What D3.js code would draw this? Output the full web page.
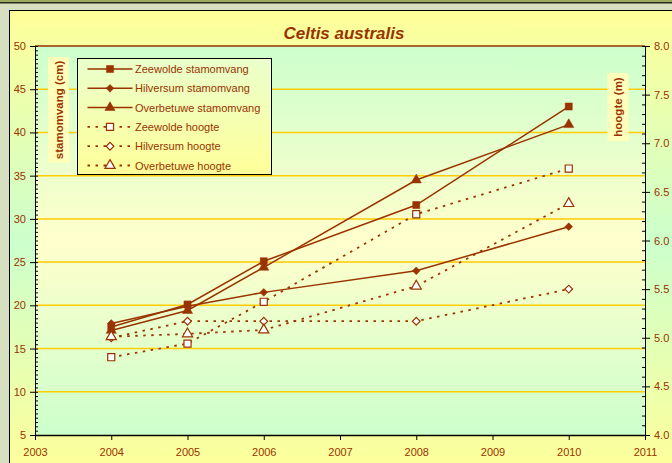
<!DOCTYPE html>
<html>
<head>
<meta charset="utf-8">
<script src="https://cdn.jsdelivr.net/npm/d3@7"></script>
<style>
  body { margin: 0; background: #d6dfbf; }
  svg { display: block; font-family: "Liberation Sans", Arial, sans-serif; }
  .axis text { fill: #993300; font-size: 11px; }
  .axis path, .axis line { stroke: #000; }
  .minor text { display: none; }
</style>
</head>
<body>
<div id="chart"></div>
<script>
// measured values
var years = [2004, 2005, 2006, 2008, 2010];
var zeewoldeStam = [17.5, 20.1, 25.1, 31.6, 43.0];
var hilversumStam = [17.9, 19.9, 21.5, 24.0, 29.1];
var overbetuweStam = [17.1, 19.4, 24.4, 34.5, 40.9];
var zeewoldeHoogte = [4.80, 4.94, 5.37, 6.27, 6.74];
var hilversumHoogte = [5.00, 5.17, 5.17, 5.17, 5.50];
var overbetuweHoogte = [5.01, 5.04, 5.08, 5.53, 6.38];
var seriesNames = ['Zeewolde stamomvang', 'Hilversum stamomvang', 'Overbetuwe stamomvang',
                   'Zeewolde hoogte', 'Hilversum hoogte', 'Overbetuwe hoogte'];
var xTicks = [2003, 2004, 2005, 2006, 2007, 2008, 2009, 2010, 2011];
var leftTicks = [5, 10, 15, 20, 25, 30, 35, 40, 45, 50];
var rightTicks = [4.0, 4.5, 5.0, 5.5, 6.0, 6.5, 7.0, 7.5, 8.0];

var brown = '#993300';

var margin = {top: 46, right: 27, bottom: 28, left: 35};
var width = 672 - margin.left - margin.right,
    height = 463 - margin.top - margin.bottom;

var svg = d3.select('#chart').append('svg')
    .attr('width', 672)
    .attr('height', 463);

// gradients
var defs = svg.append('defs');
function vGrad(id, stops, y1, y2) {
  var g = defs.append('linearGradient').attr('id', id)
    .attr('x1', 0).attr('x2', 0).attr('y1', y1).attr('y2', y2);
  if (y1 !== '0') g.attr('gradientUnits', 'userSpaceOnUse');
  stops.forEach(function(s) {
    g.append('stop').attr('offset', s[0]).attr('stop-color', s[1]);
  });
}
vGrad('chartGrad', [[0, '#ffff99'], [0.5, '#ccffcc'], [1, '#ffff99']], 10, 475);
vGrad('plotGrad', [[0, '#ccffcc'], [0.5, '#ffffcc'], [1, '#ccffcc']], '0', '1');
vGrad('legendGrad', [[0, '#eaffcc'], [1, '#ffff99']], '0', '1');

// outer frame
svg.append('rect').attr('width', 672).attr('height', 2).attr('fill', '#9aab60');
svg.append('rect').attr('y', 2).attr('width', 672).attr('height', 1.5).attr('fill', '#2b2b1b');
svg.append('rect')
  .attr('x', 9.5).attr('y', 10.5)
  .attr('width', 700).attr('height', 500)
  .attr('fill', 'url(#chartGrad)')
  .attr('stroke', '#000');

svg.append('text')
  .attr('x', 344).attr('y', 39)
  .attr('text-anchor', 'middle')
  .style('font-size', '17px').style('font-weight', 'bold').style('font-style', 'italic')
  .style('fill', brown)
  .text('Celtis australis');

var g = svg.append('g')
    .attr('transform', 'translate(' + margin.left + ',' + margin.top + ')');

var x = d3.scaleLinear().domain([2003, 2011]).range([0, width]),
    yL = d3.scaleLinear().domain([5, 50]).range([height, 0]),
    yR = d3.scaleLinear().domain([4, 8]).range([height, 0]);

g.append('rect')
  .attr('width', width).attr('height', height)
  .attr('fill', 'url(#plotGrad)');

// gridlines
g.selectAll('.grid')
  .data(leftTicks.filter(function(d) { return d > 5 && d < 50; }))
    .enter().append('line')
  .attr('x1', 0).attr('x2', width)
  .attr('y1', function(d) { return yL(d); })
  .attr('y2', function(d) { return yL(d); })
  .attr('stroke', '#ffcc00').attr('stroke-width', 1.5);

g.append('line')
  .attr('x1', 0).attr('x2', width).attr('y1', 0).attr('y2', 0)
  .attr('stroke', brown).attr('stroke-width', 1.5);

// axes
g.append('g').attr('class', 'axis minor')
  .call(d3.axisRight(yL).tickValues(d3.range(5, 50.01, 0.5)).tickSize(3).tickSizeOuter(0));
g.append('g').attr('class', 'axis')
  .call(d3.axisLeft(yL).tickValues(leftTicks).tickSize(5).tickSizeOuter(0).tickPadding(4));

g.append('g').attr('class', 'axis minor')
  .attr('transform', 'translate(' + width + ',0)')
  .call(d3.axisLeft(yR).tickValues(d3.range(4, 8.001, 0.1)).tickSize(3).tickSizeOuter(0));
g.append('g').attr('class', 'axis')
  .attr('transform', 'translate(' + width + ',0)')
  .call(d3.axisRight(yR).tickValues(rightTicks).tickSize(5).tickSizeOuter(0).tickPadding(4)
    .tickFormat(d3.format('.1f')));

var xAxis = g.append('g').attr('class', 'axis')
  .attr('transform', 'translate(0,' + height + ')')
  .call(d3.axisBottom(x).tickValues(xTicks).tickSize(5).tickSizeOuter(0).tickPadding(8)
    .tickFormat(d3.format('d')));
xAxis.select('.domain').attr('stroke', '#4a2208').attr('stroke-width', 1.5);

// axis titles
function axisTitle(cx, cy, w, h, label) {
  svg.append('rect')
    .attr('x', cx - w / 2).attr('y', cy - h / 2)
    .attr('width', w).attr('height', h)
    .attr('fill', '#ffffbb');
  svg.append('text')
    .attr('transform', 'translate(' + (cx + 4) + ',' + cy + ') rotate(-90)')
    .attr('text-anchor', 'middle')
    .style('font-size', '11.5px').style('font-weight', 'bold')
    .style('fill', brown)
    .text(label);
}
axisTitle(58.5, 110, 21, 106, 'stamomvang (cm)');
axisTitle(618, 107, 21, 68, 'hoogte (m)');

// series
var series = [
  {name: seriesNames[0], values: zeewoldeStam, scale: yL, shape: 'square', open: false},
  {name: seriesNames[1], values: hilversumStam, scale: yL, shape: 'diamond', open: false},
  {name: seriesNames[2], values: overbetuweStam, scale: yL, shape: 'triangle', open: false},
  {name: seriesNames[3], values: zeewoldeHoogte, scale: yR, shape: 'square', open: true},
  {name: seriesNames[4], values: hilversumHoogte, scale: yR, shape: 'diamond', open: true},
  {name: seriesNames[5], values: overbetuweHoogte, scale: yR, shape: 'triangle', open: true}
];

function symbolPath(shape) {
  if (shape === 'square') return d3.symbol(d3.symbolSquare, 50)();
  if (shape === 'diamond') return d3.symbol(d3.symbolSquare, 30)();
  return d3.symbol(d3.symbolTriangle, 45)();
}
function drawMarker(sel, s) {
  sel.attr('d', symbolPath(s.shape))
    .attr('fill', s.open ? '#ffffff' : brown)
    .attr('stroke', brown)
    .attr('stroke-width', s.open ? 1.2 : 0.5);
}

var line = d3.line()
  .x(function(d) { return x(d.year); })
  .y(function(d) { return d.y; });

var lines = g.selectAll('.serie')
  .data(series)
    .enter().append('g')
  .attr('class', 'serie');

lines.append('path')
  .attr('d', function(s) {
    return line(years.map(function(yr, i) { return {year: yr, y: s.scale(s.values[i])}; }));
  })
  .attr('fill', 'none')
  .attr('stroke', brown)
  .attr('stroke-width', function(s) { return s.open ? 1.8 : 1.5; })
  .attr('stroke-dasharray', function(s) { return s.open ? '2.5,5.5' : null; });

lines.each(function(s) {
  d3.select(this).selectAll('.marker')
    .data(s.values)
      .enter().append('path')
    .attr('transform', function(d, i) {
      var rot = s.shape === 'diamond' ? ' rotate(45)' : '';
      return 'translate(' + x(years[i]) + ',' + s.scale(d) + ')' + rot;
    })
    .call(drawMarker, s);
});

// legend
var legend = svg.append('g').attr('transform', 'translate(77.5,58.5)');
legend.append('rect')
  .attr('width', 194).attr('height', 116)
  .attr('fill', 'url(#legendGrad)')
  .attr('stroke', '#000');

var rows = legend.selectAll('.row')
  .data(series)
    .enter().append('g')
  .attr('transform', function(d, i) { return 'translate(0,' + (10.5 + i * 19.3) + ')'; });

rows.append('line')
  .attr('x1', 10).attr('x2', 55)
  .attr('stroke', brown)
  .attr('stroke-width', function(s) { return s.open ? 1.8 : 1.5; })
  .attr('stroke-dasharray', function(s) { return s.open ? '2.5,5.5' : null; });

rows.append('path')
  .each(function(s) {
    d3.select(this)
      .attr('transform', 'translate(32.5,0)' + (s.shape === 'diamond' ? ' rotate(45)' : ''))
      .call(drawMarker, s);
  });

rows.append('text')
  .attr('x', 57.5).attr('y', 4)
  .style('font-size', '11px')
  .style('fill', brown)
  .text(function(s) { return s.name; });
</script>
</body>
</html>
